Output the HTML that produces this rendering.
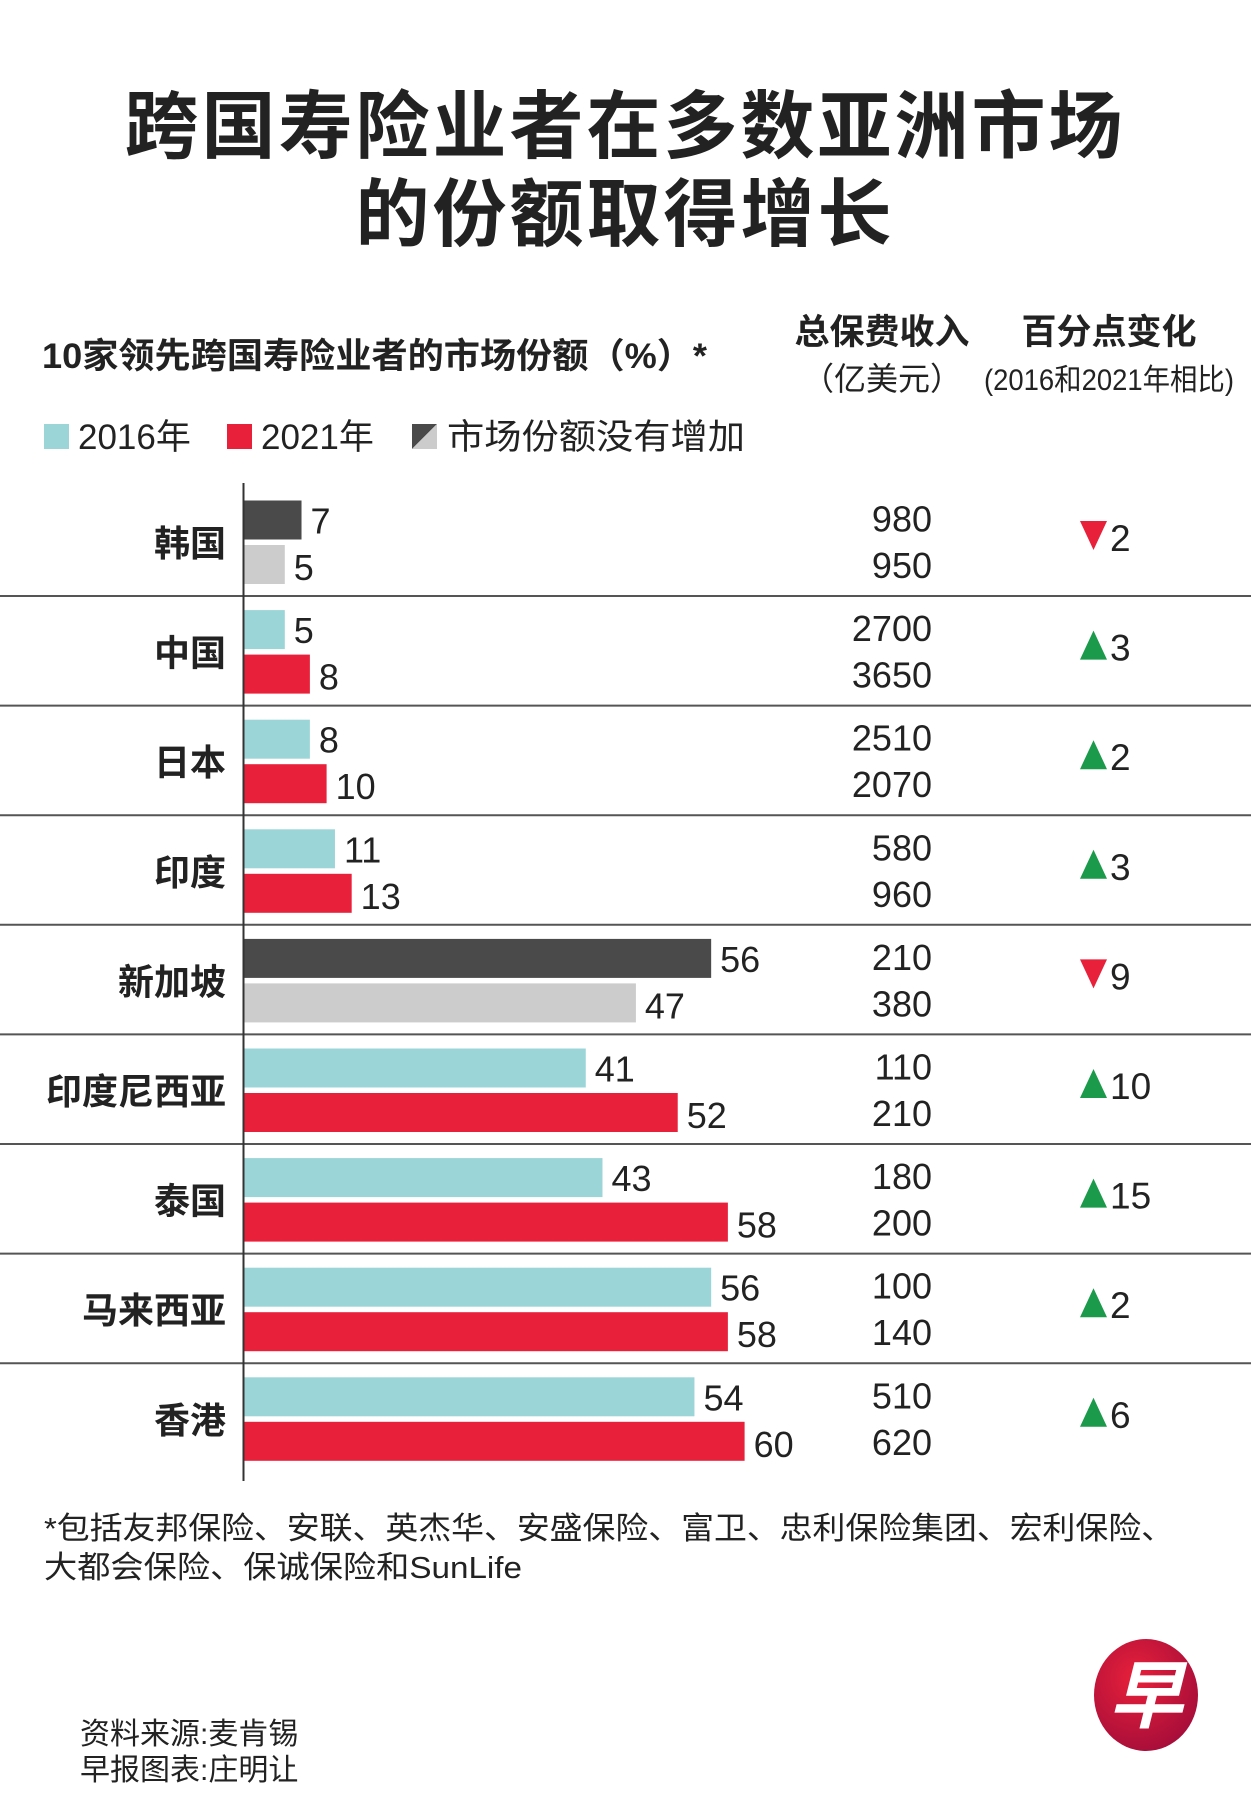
<!DOCTYPE html>
<html><head><meta charset="utf-8">
<style>
html,body{margin:0;padding:0;background:#fff;}
svg{display:block;}
text{font-family:"Liberation Sans","Noto Sans CJK SC",sans-serif;fill:#222;}
</style></head>
<body>
<svg id="chart" width="1251" height="1797" viewBox="0 0 1251 1797">
  <text x="625" y="152" text-anchor="middle" font-size="74" font-weight="bold" letter-spacing="3">跨国寿险业者在多数亚洲市场</text>
  <text x="625" y="240" text-anchor="middle" font-size="74" font-weight="bold" letter-spacing="3">的份额取得增长</text>
  <text x="42" y="368" font-size="35" font-weight="bold" textLength="665" lengthAdjust="spacingAndGlyphs">10家领先跨国寿险业者的市场份额（%）*</text>
  <text x="882" y="344" text-anchor="middle" font-size="35" font-weight="bold">总保费收入</text>
  <text x="882" y="390" text-anchor="middle" font-size="32">（亿美元）</text>
  <text x="1109" y="344" text-anchor="middle" font-size="35" font-weight="bold">百分点变化</text>
  <text x="1109" y="390" text-anchor="middle" font-size="30" textLength="250" lengthAdjust="spacingAndGlyphs">(2016和2021年相比)</text>
  <g>
    <rect x="44" y="424" width="25" height="25" fill="#9bd5d8"/>
    <text x="78" y="449" font-size="35">2016年</text>
    <rect x="227" y="424" width="25" height="25" fill="#e8203a"/>
    <text x="261" y="449" font-size="35">2021年</text>
    <polygon points="412,424 437,424 412,449" fill="#4a4a4a"/>
    <polygon points="437,424 437,449 412,449" fill="#cccccc"/>
    <text x="447" y="449" font-size="35" textLength="298" lengthAdjust="spacingAndGlyphs">市场份额没有增加</text>
  </g>
  <g id="rows"></g>
  <line x1="243.5" y1="483" x2="243.5" y2="1481" stroke="#333" stroke-width="2"/>
  <text x="44" y="1539" font-size="31" textLength="1130" lengthAdjust="spacingAndGlyphs">*包括友邦保险、安联、英杰华、安盛保险、富卫、忠利保险集团、宏利保险、</text>
  <text x="44" y="1578" font-size="31" textLength="478" lengthAdjust="spacingAndGlyphs">大都会保险、保诚保险和SunLife</text>
  <text x="80" y="1744" font-size="30" fill="#444">资料来源:麦肯锡</text>
  <text x="80" y="1780" font-size="30" fill="#444">早报图表:庄明让</text>
  <defs><radialGradient id="lg" cx="0.4" cy="0.35" r="0.7"><stop offset="0" stop-color="#e8203a"/><stop offset="1" stop-color="#a50d3a"/></radialGradient></defs>
  <g>
    <ellipse cx="1146" cy="1695" rx="52" ry="56" fill="url(#lg)"/>
    <text x="1146" y="1722" text-anchor="middle" font-size="74" font-weight="bold" fill="#fff" style="fill:#fff" font-style="italic">早</text>
  </g>
</svg>
<script>
const countries = ["韩国","中国","日本","印度","新加坡","印度尼西亚","泰国","马来西亚","香港"];
const share2016 = [7,5,8,11,56,41,43,56,54];
const share2021 = [5,8,10,13,47,52,58,58,60];
const premium2016 = [980,2700,2510,580,210,110,180,100,510];
const premium2021 = [950,3650,2070,960,380,210,200,140,620];
const changePts = [2,3,2,3,9,10,15,2,6];
const increased = [false,true,true,true,false,true,true,true,true];

const NS = "http://www.w3.org/2000/svg";
const g = document.getElementById('rows');
const x0 = 243, pxPerUnit = 8.36;
const xScale = v => x0 + v * pxPerUnit;
const rowTop = i => 487 + i * 109.6;
function mk(tag, attrs, txt){
  const e = document.createElementNS(NS, tag);
  for (const k in attrs) e.setAttribute(k, attrs[k]);
  if (txt !== undefined) e.textContent = txt;
  g.appendChild(e);
  return e;
}
countries.forEach((c, i) => {
  const t = rowTop(i);
  const b1 = t + 13.5, b2 = b1 + 44.5, bh = 39;
  const c1 = increased[i] ? "#9bd5d8" : "#4a4a4a";
  const c2 = increased[i] ? "#e8203a" : "#cccccc";
  let e;
  e = mk('text', {x:226, y:t+69, 'text-anchor':'end', 'font-size':36, 'font-weight':'bold'}, c);
  
  
  e = mk('rect', {x:x0, y:b1, width:xScale(share2016[i])-x0, height:bh, fill:c1});
  
  
  e = mk('rect', {x:x0, y:b2, width:xScale(share2021[i])-x0, height:bh, fill:c2});
  
  
  e = mk('text', {x:xScale(share2016[i])+9, y:b1+33, 'font-size':36}, share2016[i]);
  
  
  e = mk('text', {x:xScale(share2021[i])+9, y:b2+35, 'font-size':36}, share2021[i]);
  
  
  e = mk('text', {x:932, y:b1+31, 'text-anchor':'end', 'font-size':36}, premium2016[i]);
  
  
  e = mk('text', {x:932, y:b2+33, 'text-anchor':'end', 'font-size':36}, premium2021[i]);
  
  
  const ty = t + 34;
  const pts = increased[i] ? `1080,${ty+29} 1107,${ty+29} 1093.5,${ty}` : `1080,${ty} 1107,${ty} 1093.5,${ty+29}`;
  e = mk('polygon', {points:pts, fill: increased[i] ? "#1a9a4a" : "#e8203a"});
  
  
  e = mk('text', {x:1110, y:t+64, 'font-size':37}, changePts[i]);
  
  
  if (i < countries.length - 1) {
    e = mk('line', {x1:0, x2:1251, y1:t+109, y2:t+109, stroke:'#555', 'stroke-width':2});
    
    
  }
});
</script>
</body></html>
